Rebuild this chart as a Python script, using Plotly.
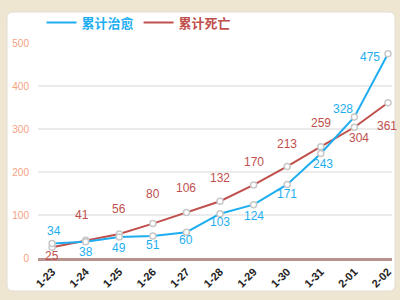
import plotly.graph_objects as go

dates = ["1-23", "1-24", "1-25", "1-26", "1-27", "1-28", "1-29", "1-30", "1-31", "2-01", "2-02"]
cured = [34, 38, 49, 51, 60, 103, 124, 171, 243, 328, 475]
deaths = [25, 41, 56, 80, 106, 132, 170, 213, 259, 304, 361]
y_ticks = [0, 100, 200, 300, 400, 500]

# label offsets in pixels (x, y) relative to each point
cured_off = [(2, 12), (0, -10), (0, -11), (0, -9), (0, -8), (0, -8), (0, -11), (0, -10), (2, -10), (-11, 8), (-18, -3)]
death_off = [(0, -9), (-4, 25), (0, 25), (0, 30), (0, 24), (0, 23), (0, 23), (0, 22), (0, 24), (5, -11), (-1, -23)]

BLUE = "#1eaef0"
RED = "#c0504d"
FONT = "Liberation Sans, Arial, sans-serif"

fig = go.Figure()

marker = dict(size=6, color="white", line=dict(color="#c8c8c8", width=1.5))

fig.add_trace(go.Scatter(
    x=dates, y=deaths, mode="lines+markers", name="累计死亡",
    line=dict(color=RED, width=2), marker=marker, showlegend=False, cliponaxis=False))
fig.add_trace(go.Scatter(
    x=dates, y=cured, mode="lines+markers", name="累计治愈",
    line=dict(color=BLUE, width=2), marker=marker, showlegend=False, cliponaxis=False))

for d, v, (dx, dy) in zip(dates, deaths, death_off):
    fig.add_annotation(x=d, y=v, text=str(v), showarrow=False, xshift=dx, yshift=dy,
                       font=dict(color=RED, size=12, family=FONT))
for d, v, (dx, dy) in zip(dates, cured, cured_off):
    fig.add_annotation(x=d, y=v, text=str(v), showarrow=False, xshift=dx, yshift=dy,
                       font=dict(color=BLUE, size=12, family=FONT))

# legend entries
fig.add_trace(go.Scatter(x=[None], y=[None], mode="lines", line=dict(color=BLUE, width=2),
                         name="<b><span style='color:%s'>累计治愈</span></b>" % BLUE))
fig.add_trace(go.Scatter(x=[None], y=[None], mode="lines", line=dict(color=RED, width=2),
                         name="<b><span style='color:%s'>累计死亡</span></b>" % RED))

# card background
x0, x1 = (7 - 38) / 354, (395 - 38) / 354
y0, y1 = (258 - 291) / 215, (258 - 12) / 215
rx, ry = 6 / 354, 6 / 215
path = (f"M {x0+rx},{y1} L {x1-rx},{y1} Q {x1},{y1} {x1},{y1-ry} L {x1},{y0+ry} "
        f"Q {x1},{y0} {x1-rx},{y0} L {x0+rx},{y0} Q {x0},{y0} {x0},{y0+ry} "
        f"L {x0},{y1-ry} Q {x0},{y1} {x0+rx},{y1} Z")
fig.add_shape(type="path", path=path, xref="paper", yref="paper",
              fillcolor="white", line=dict(color="#e2ddd6", width=1), layer="below")

fig.update_layout(
    width=400, height=300,
    margin=dict(l=38, r=8, t=43, b=42),
    paper_bgcolor="#efe6d2", plot_bgcolor="rgba(0,0,0,0)",
    font=dict(family=FONT),
    legend=dict(orientation="h", x=0.01, y=1.095, xanchor="left", yanchor="middle",
                font=dict(size=13, family="Noto Sans CJK SC"), itemwidth=30,
                bgcolor="rgba(0,0,0,0)"),
    xaxis=dict(type="category", range=[-0.42, 10.12], showgrid=False,
               showline=True, linecolor="#b8928f", linewidth=3,
               tickangle=-45, tickfont=dict(size=11, color="#222", family="Liberation Sans, Arial", weight="bold"),
               ticks="", fixedrange=True),
    yaxis=dict(range=[0, 500], tickvals=y_ticks, showgrid=True, gridcolor="#ebebeb", gridwidth=1.5,
               zeroline=False, showline=False, tickfont=dict(size=10, color="#f4a27f"),
               ticklabelstandoff=8, fixedrange=True),
)

fig.write_html("out.html")
